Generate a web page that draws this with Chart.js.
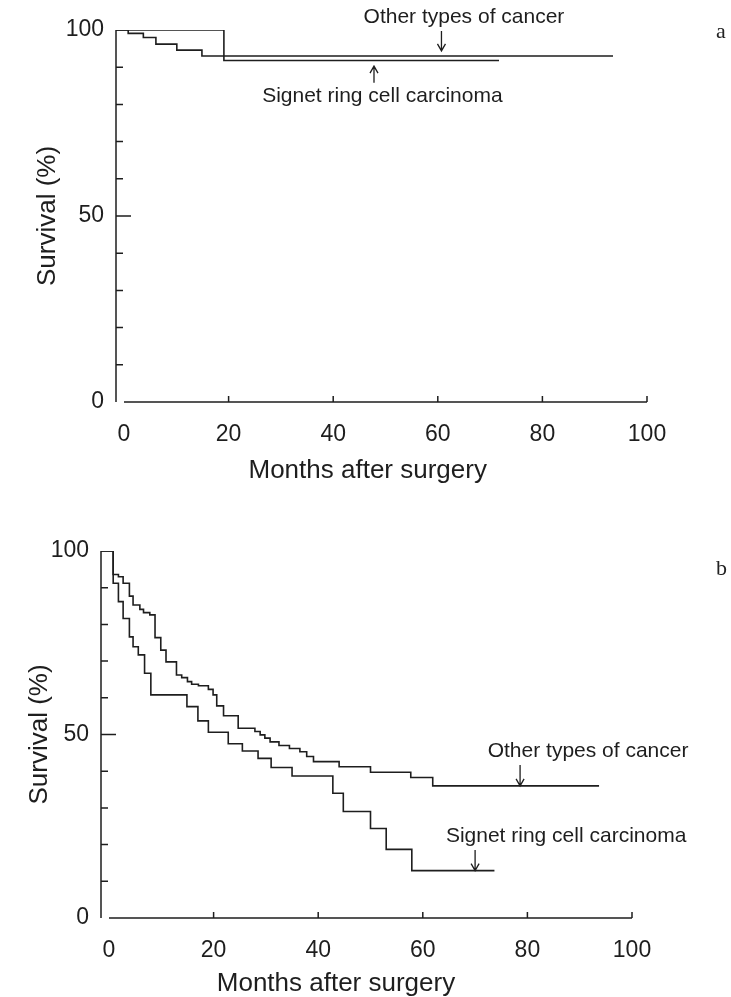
<!DOCTYPE html>
<html>
<head>
<meta charset="utf-8">
<script src="https://cdn.jsdelivr.net/npm/chart.js@4.4.1/dist/chart.umd.min.js"></script>
<style>
  body { margin: 0; background: #fff; }
  #wrap { position: relative; width: 731px; height: 997px; }
  canvas { position: absolute; left: 0; }
  #chartA { top: 0; }
  #chartB { top: 500px; }
  .tag { position: absolute; font-family: "Liberation Serif", "DejaVu Serif", serif; font-size: 22px; color: #222; line-height: 1; }
</style>
</head>
<body>
<div id="wrap">
  <canvas id="chartA" width="731" height="500"></canvas>
  <canvas id="chartB" width="731" height="497"></canvas>
  <div class="tag" style="left:716px; top:20px;">a</div>
  <div class="tag" style="left:716px; top:557px;">b</div>
</div>
<script>
const INK = '#1e1e1e';
const FONT = '"Liberation Sans", Arial, Helvetica, sans-serif';

// axes
const xTickValues = [0, 20, 40, 60, 80, 100];
const yMinorTicks = [10, 20, 30, 40, 50, 60, 70, 80, 90];
const X_START = -1.53; // y axis sits a little left of month 0

// panel a: months where the curve steps, and survival (%) after the step
const aOtherMonths   = [0.8, 3.7, 6.1, 10.1, 14.9, 93.5];
const aOtherSurvival = [99.1, 98.0, 96.2, 94.6, 93.0, 93.0];
const aSignetMonths   = [19.1, 71.7];
const aSignetSurvival = [91.8, 91.8];

// panel b
const bOtherMonths = [0.8, 1.8, 2.7, 3.9, 4.6, 5.9, 6.6, 7.8, 8.8, 9.9, 10.9, 12.9, 13.9, 15.0, 15.8,
  17.1, 19.0, 19.9, 20.6, 21.9, 24.7, 27.9, 28.9, 29.8, 30.8, 32.5, 34.5, 36.5, 37.8, 39.1, 44.0,
  50.0, 57.7, 61.9, 93.7];
const bOtherSurvival = [93.6, 93.0, 91.2, 87.7, 85.3, 84.1, 83.2, 82.6, 76.4, 73.0, 69.8, 66.2, 65.5, 64.4, 63.7,
  63.3, 62.3, 60.8, 57.8, 55.1, 51.7, 50.8, 49.9, 49.0, 48.0, 47.0, 46.2, 45.3, 44.0, 42.6, 41.2,
  39.7, 38.3, 36.0, 36.0];
const bSignetMonths = [0.8, 1.8, 2.7, 3.9, 4.6, 5.6, 6.8, 8.0, 14.9, 17.0, 19.0, 22.8, 25.5, 28.5,
  31.0, 35.0, 42.8, 44.8, 50.0, 53.0, 57.9, 73.7];
const bSignetSurvival = [91.2, 86.2, 81.6, 76.6, 73.9, 71.7, 66.7, 60.8, 57.6, 53.7, 50.6, 47.5, 45.5, 43.5,
  41.0, 38.7, 34.0, 29.0, 24.4, 18.7, 12.9, 12.9];

function curve(months, surv) {
  const pts = [{x: X_START, y: 100}];
  months.forEach((m, i) => pts.push({x: m, y: surv[i]}));
  return pts;
}

function arrowHead(ctx, x, y, dir) {
  // dir: 1 = pointing down, -1 = pointing up
  ctx.moveTo(x - 4, y - dir * 7);
  ctx.lineTo(x, y);
  ctx.lineTo(x + 4, y - dir * 7);
}

const decor = {
  id: 'decor',
  afterDraw(chart, args, o) {
    const {ctx} = chart;
    const xs = chart.scales.x, ys = chart.scales.y;
    const px = v => xs.getPixelForValue(v), py = v => ys.getPixelForValue(v);
    const x0 = px(X_START), y0 = py(0);
    ctx.save();
    ctx.strokeStyle = INK;
    ctx.fillStyle = INK;
    ctx.lineWidth = 1.5;
    ctx.beginPath();
    ctx.moveTo(x0, y0); ctx.lineTo(x0, py(100));
    ctx.moveTo(px(0), y0); ctx.lineTo(px(100), y0);
    yMinorTicks.forEach(v => {
      ctx.moveTo(x0, py(v)); ctx.lineTo(x0 + (v === 50 ? 15 : 7), py(v));
    });
    xTickValues.slice(1).forEach(v => {
      ctx.moveTo(px(v), y0); ctx.lineTo(px(v), y0 - 6);
    });
    ctx.stroke();

    ctx.lineWidth = 1.3;
    ctx.beginPath();
    o.arrows.forEach(a => {
      ctx.moveTo(px(a.x), py(a.from));
      ctx.lineTo(px(a.x), py(a.to));
      arrowHead(ctx, px(a.x), py(a.to), a.to < a.from ? 1 : -1);
    });
    ctx.stroke();

    ctx.textAlign = 'center';
    ctx.textBaseline = 'middle';
    ctx.font = '21px ' + FONT;
    o.notes.forEach(n => ctx.fillText(n.text, px(n.x), py(n.y)));

    ctx.font = '26px ' + FONT;
    ctx.fillText('Months after surgery', px(o.xTitleAt), y0 + o.xTitleGap);
    ctx.translate(o.yTitleX, py(50));
    ctx.rotate(-Math.PI / 2);
    ctx.fillText('Survival (%)', 0, 0);
    ctx.restore();
  }
};

function makeChart(id, other, signet, area, decorOpts) {
  const canvas = document.getElementById(id);
  const line = data => ({
    data, stepped: true, borderColor: INK, borderWidth: 1.6,
    pointRadius: 0, fill: false, tension: 0
  });
  return new Chart(canvas, {
    type: 'line',
    data: { datasets: [line(other), line(signet)] },
    options: {
      responsive: false,
      animation: false,
      layout: { padding: { left: 0, right: canvas.width - area.right, top: area.top, bottom: canvas.height - area.bottom - 60 } },
      plugins: { legend: { display: false }, tooltip: { enabled: false }, decor: decorOpts },
      scales: {
        x: {
          type: 'linear', min: X_START, max: 100,
          grid: { display: false, drawTicks: false },
          border: { display: false },
          afterBuildTicks: s => { s.ticks = xTickValues.map(v => ({value: v})); },
          afterFit: s => { s.height = 60; },
          ticks: { color: INK, font: { family: FONT, size: 23 }, padding: 19, maxRotation: 0, autoSkip: false }
        },
        y: {
          min: 0, max: 100,
          grid: { display: false, drawTicks: false },
          border: { display: false },
          afterFit: s => { s.width = area.left; },
          ticks: { stepSize: 50, color: INK, font: { family: FONT, size: 23 }, padding: 12 }
        }
      }
    },
    plugins: [decor]
  });
}

makeChart('chartA', curve(aOtherMonths, aOtherSurvival), curve(aSignetMonths, aSignetSurvival),
  { left: 116, right: 647, top: 30, bottom: 402 },
  {
    notes: [
      { text: 'Other types of cancer', x: 65, y: 103.5 },
      { text: 'Signet ring cell carcinoma', x: 49.4, y: 82.3 }
    ],
    arrows: [
      { x: 60.7, from: 99.7, to: 94.4 },
      { x: 47.8, from: 85.8, to: 90.3 }
    ],
    xTitleAt: 46.6, xTitleGap: 69, yTitleX: 48
  });

makeChart('chartB', curve(bOtherMonths, bOtherSurvival), curve(bSignetMonths, bSignetSurvival),
  { left: 101, right: 632, top: 51, bottom: 418 },
  {
    notes: [
      { text: 'Other types of cancer', x: 91.6, y: 45.5 },
      { text: 'Signet ring cell carcinoma', x: 87.4, y: 22.3 }
    ],
    arrows: [
      { x: 78.6, from: 41.7, to: 36.0 },
      { x: 70.0, from: 18.5, to: 12.9 }
    ],
    xTitleAt: 43.4, xTitleGap: 66, yTitleX: 40
  });
</script>
</body>
</html>
